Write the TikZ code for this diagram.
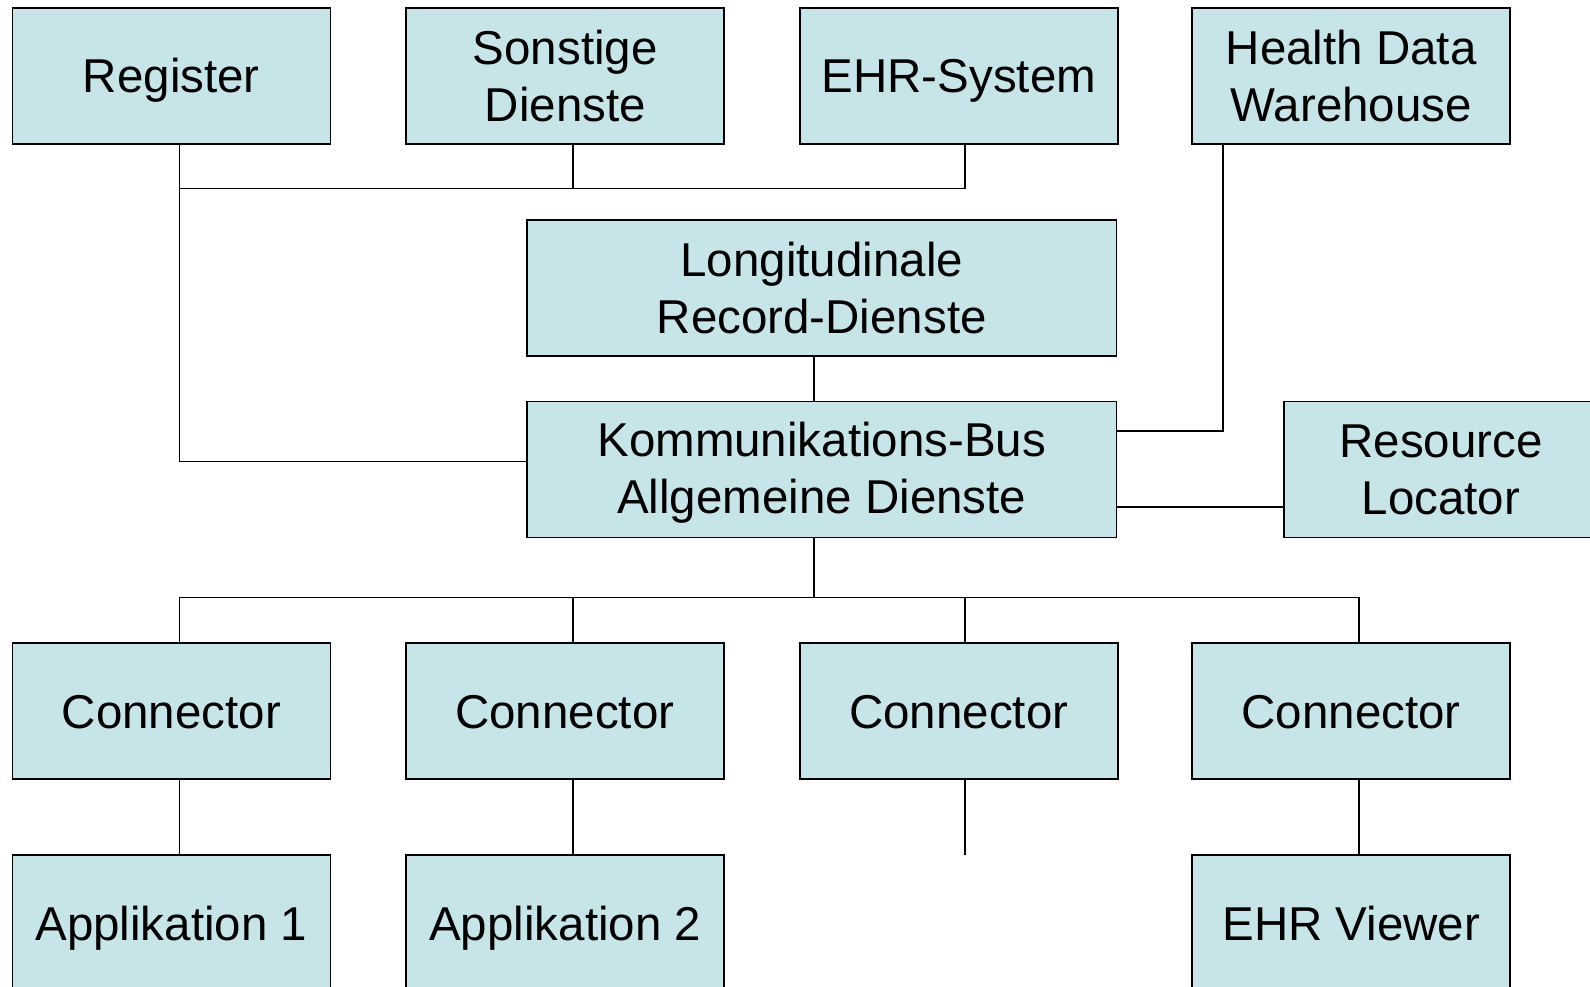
\documentclass[tikz,border=0pt]{standalone}
\usepackage{fontspec}
\setmainfont{Liberation Sans}
\usetikzlibrary{calc}
\definecolor{boxfill}{RGB}{199,229,232}
\tikzset{
  box/.style={draw=black, fill=boxfill, line width=1.8pt, minimum width=318pt, minimum height=136pt,
    inner sep=0pt, outer sep=0pt, align=center, anchor=center,
    font=\fontsize{47.5}{57}\selectfont},
  onebox/.style={box, text height=34pt, text depth=0pt},
  widebox/.style={box, minimum width=589.5pt},
  link/.style={draw=black, line width=1.8pt}
}
\begin{document}
\begin{tikzpicture}[x=1pt, y=-1pt]
\useasboundingbox (0,0) rectangle (1590,987);
\begin{scope}
\clip (0,0) rectangle (1590,987);
% top row
\node[onebox] (reg) at (171.4,76) {Register};
\node[box] (son) at (565.3,76) {Sonstige\\Dienste};
\node[onebox] (ehr) at (958.75,76) {EHR-System};
\node[box] (hdw) at (1351.25,76) {Health Data\\Warehouse};
% middle
\node[widebox] (lon) at (821.75,288) {Longitudinale\\Record-Dienste};
\node[widebox] (kom) at (821.75,469.5) {\rule{0pt}{40pt}Kommunikations-Bus\\Allgemeine Dienste};
\node[box, minimum width=314pt] (rl) at (1441,469.5) {Resource\\Locator};
% connectors
\node[onebox] (c1) at (171.4,711) {Connector};
\node[onebox] (c2) at (564.8,711) {Connector};
\node[onebox] (c3) at (958.75,711) {Connector};
\node[onebox] (c4) at (1351.25,711) {Connector};
% bottom row
\node[onebox] (a1) at (171.4,923) {Applikation 1};
\node[onebox] (a2) at (565.3,923) {Applikation 2};
\node[onebox] (ev) at (1351.25,923) {EHR Viewer};
\end{scope}
% top connections
\draw[link] ([xshift=8pt]reg.south) |- ([yshift=8pt]kom.west);
\draw[link] ([xshift=8pt,yshift=-44.6pt]reg.south) -| ([xshift=6.5pt]ehr.south);
\draw[link] ([xshift=7.7pt]son.south) -- ++(0,44.6);
\draw[link] ([xshift=-128pt]hdw.south) |- ([yshift=38.5pt]kom.east);
\draw[link] ([yshift=-37.5pt]kom.east) -- ([yshift=-37.5pt]rl.west);
\draw[link] ([xshift=-7.75pt]lon.south) -- ([xshift=-7.75pt]kom.north);
% lower bus
\draw[link] ([xshift=-7.75pt]kom.south) -- ++(0,60);
\draw[link] ([xshift=8pt]c1.north) |- ([xshift=-7.75pt,yshift=-60pt]kom.south);
\draw[link] ([xshift=7.75pt]c4.north) |- ([xshift=-7.75pt,yshift=-60pt]kom.south);
\draw[link] ([xshift=8.2pt]c2.north) -- ++(0,-45.7);
\draw[link] ([xshift=6.5pt]c3.north) -- ++(0,-45.7);
% connector to applications
\draw[link] ([xshift=8pt]c1.south) -- ([xshift=8pt]a1.north);
\draw[link] ([xshift=8.2pt]c2.south) -- ([xshift=7.7pt]a2.north);
\coordinate (c3end) at ($(c3.south)+(6.5,76)$);
\draw[link] ([xshift=6.5pt]c3.south) -- (c3end);
\draw[link] ([xshift=7.75pt]c4.south) -- ([xshift=7.75pt]ev.north);
\end{tikzpicture}
\end{document}
